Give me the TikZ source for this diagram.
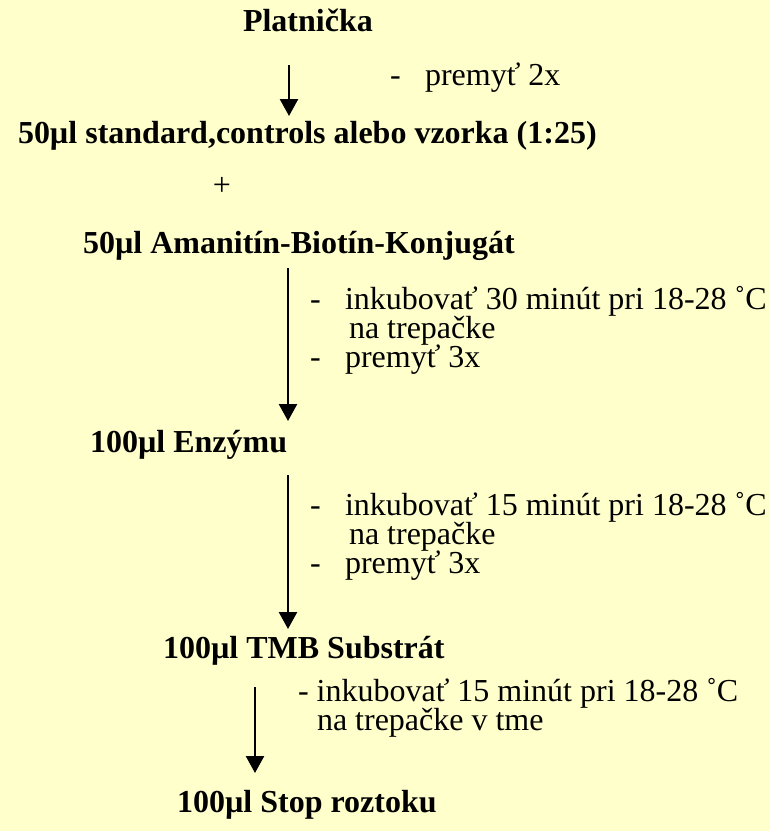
\documentclass[tikz,border=0pt]{standalone}
\usepackage{fontspec}
\setmainfont{Liberation Serif}
\usetikzlibrary{arrows.meta}
\definecolor{bg}{HTML}{FFFFCC}
\begin{document}
\begin{tikzpicture}[x=1pt,y=-1pt,
  every node/.style={inner sep=0pt,outer sep=0pt,font=\fontsize{32}{37}\selectfont},
  head/.style={anchor=base west,font=\fontsize{32}{37}\selectfont\bfseries},
  note/.style={anchor=base west},
  flow/.style={line width=2.5pt,-{Triangle[width=18pt,length=17pt]}}]
\fill[bg] (0,0) rectangle (770,831);
\useasboundingbox (0,0) rectangle (770,831);
% headings
\node[head] (p) at (243,31) {Platnička};
\node[head] (s) at (18,143) {50µl standard,controls alebo vzorka (1:25)};
\node[anchor=base] (plus) at (222,195) {+};
\node[head] (a) at (83,253) {50µl Amanitín-Biotín-Konjugát};
\node[head] (e) at (90,452) {100µl Enzýmu};
\node[head] (t) at (163,658) {100µl TMB Substrát};
\node[head] (r) at (177,812) {100µl Stop roztoku};
% arrows
\coordinate (a1s) at (289,65);  \coordinate (a1e) at (289,116);
\coordinate (a2s) at (288,268); \coordinate (a2e) at (288,421);
\coordinate (a3s) at (288,475); \coordinate (a3e) at (288,629);
\coordinate (a4s) at (255,687); \coordinate (a4e) at (255,773);
\draw[flow] (a1s) -- (a1e);
\draw[flow] (a2s) -- (a2e);
\draw[flow] (a3s) -- (a3e);
\draw[flow] (a4s) -- (a4e);
% notes
\node[note] (n1a) at (390,85) {-};
\node[note] (n1b) at (425,85) {premyť 2x};
\node[note] (n2a) at (310,309) {-};
\node[note] (n2b) at (345,309) {inkubovať 30 minút pri 18-28 ˚C};
\node[note] (n2c) at (349,338) {na trepačke};
\node[note] (n2d) at (310,367) {-};
\node[note] (n2e) at (345,367) {premyť 3x};
\node[note] (n3a) at (310,515) {-};
\node[note] (n3b) at (345,515) {inkubovať 15 minút pri 18-28 ˚C};
\node[note] (n3c) at (349,544) {na trepačke};
\node[note] (n3d) at (310,573) {-};
\node[note] (n3e) at (345,573) {premyť 3x};
\node[note] (n4a) at (298,701) {- inkubovať 15 minút pri 18-28 ˚C};
\node[note] (n4b) at (317,730) {na trepačke v tme};
\end{tikzpicture}
\end{document}
